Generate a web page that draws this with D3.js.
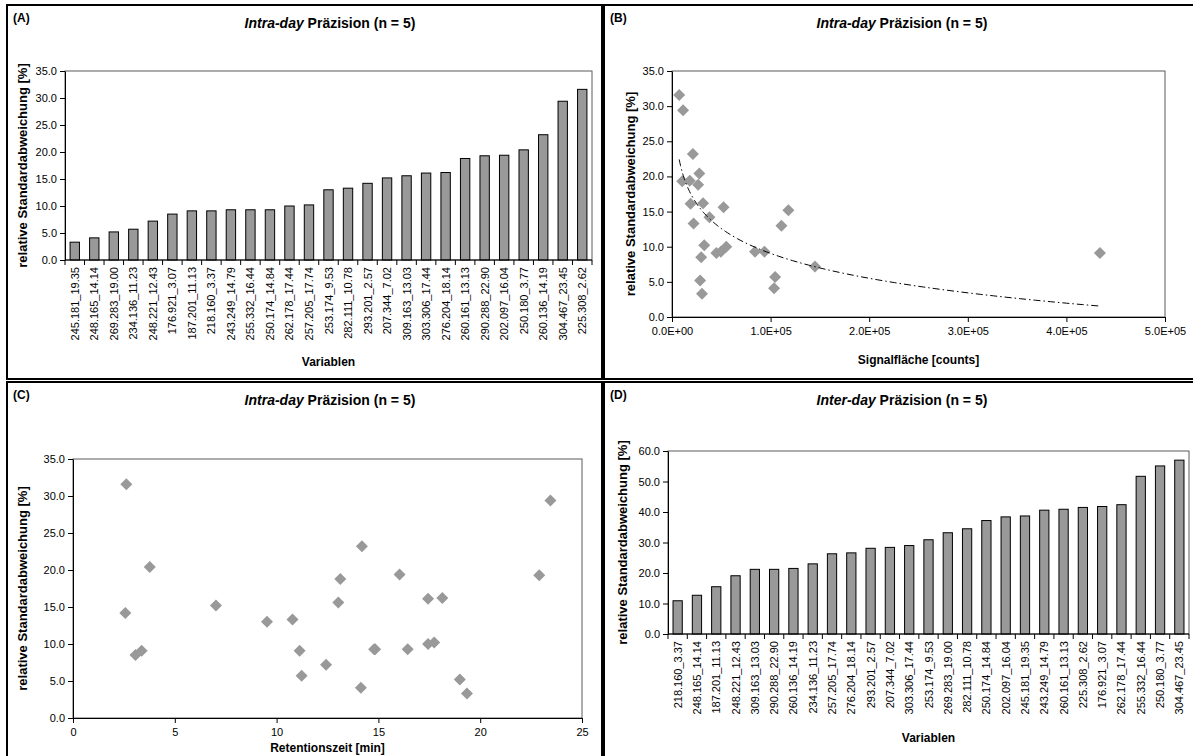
<!DOCTYPE html>
<html><head><meta charset="utf-8">
<script src="https://cdn.jsdelivr.net/npm/d3@7"></script>
<style>
body{margin:0;background:#fff;}
svg{display:block;font-family:"Liberation Sans",Arial,sans-serif;}
</style></head><body>
<svg id="chart" width="1193" height="756"></svg>
<script>
// Intra-day precision: compounds sorted by RSD
const intraLabels = ["245.181_19.35","248.165_14.14","269.283_19.00","234.136_11.23","248.221_12.43","176.921_3.07","187.201_11.13","218.160_3.37","243.249_14.79","255.332_16.44","250.174_14.84","262.178_17.44","257.205_17.74","253.174_9.53","282.111_10.78","293.201_2.57","207.344_7.02","309.163_13.03","303.306_17.44","276.204_18.14","260.161_13.13","290.288_22.90","202.097_16.04","250.180_3.77","260.136_14.19","304.467_23.45","225.308_2.62"];
const intraRsd = [3.3,4.1,5.2,5.7,7.2,8.5,9.1,9.1,9.3,9.3,9.3,10.0,10.2,13.0,13.3,14.2,15.2,15.6,16.1,16.2,18.8,19.3,19.4,20.4,23.2,29.4,31.6];
// retention time [min] of each compound (same order)
const retentionTime = [19.35,14.14,19.00,11.23,12.43,3.07,11.13,3.37,14.79,16.44,14.84,17.44,17.74,9.53,10.78,2.57,7.02,13.03,17.44,18.14,13.13,22.90,16.04,3.77,14.19,23.45,2.62];
// signal area [counts] of each compound (same order)
const signalArea = [30400,103500,28500,104600,145000,29600,45000,434000,49600,84200,93800,55000,32700,111000,21900,38000,118000,52300,18800,31500,26500,10400,18000,27700,21200,11200,7300];

// Inter-day precision
const interLabels = ["218.160_3.37","248.165_14.14","187.201_11.13","248.221_12.43","309.163_13.03","290.288_22.90","260.136_14.19","234.136_11.23","257.205_17.74","276.204_18.14","293.201_2.57","207.344_7.02","303.306_17.44","253.174_9.53","269.283_19.00","282.111_10.78","250.174_14.84","202.097_16.04","245.181_19.35","243.249_14.79","260.161_13.13","225.308_2.62","176.921_3.07","262.178_17.44","255.332_16.44","250.180_3.77","304.467_23.45"];
const interRsd = [10.9,12.7,15.5,19.1,21.2,21.2,21.5,23.0,26.3,26.6,28.1,28.4,29.0,30.9,33.2,34.5,37.2,38.4,38.7,40.6,40.9,41.5,41.8,42.4,51.7,55.1,57.0];

const yTicksIntra = [0,5,10,15,20,25,30,35];
const yTicksInter = [0,10,20,30,40,50,60];
const xTicksArea = [0,100000,200000,300000,400000,500000];
const xTicksRt = [0,5,10,15,20,25];

const svg = d3.select("#chart");
const BAR = "#999999", MARK = "#999999", FRAME = "#5a5a5a";
const FONT = "Liberation Sans, Arial, sans-serif";
const fmt1 = d3.format(".1f");
const fmtExp = d => {
  const [m, e] = d.toExponential(1).split("e");
  const n = Math.abs(+e);
  return m + "E" + (+e < 0 ? "-" : "+") + (n < 10 ? "0" + n : n);
};

function panel(box, tag) {
  const [x0, y0, x1, y1] = box;
  svg.append("rect").attr("x", x0).attr("y", y0).attr("width", x1 - x0).attr("height", y1 - y0)
    .attr("fill", "#fff").attr("stroke", "#000").attr("stroke-width", 2);
  svg.append("text").attr("x", x0 + 6).attr("y", y0 + 17).attr("font-size", 12).attr("font-weight", "bold").text(tag);
}
function title(cx, y, italic, rest) {
  const t = svg.append("text").attr("x", cx).attr("y", y).attr("text-anchor", "middle")
    .attr("font-size", 14).attr("font-weight", "bold");
  t.append("tspan").attr("font-style", "italic").text(italic);
  t.append("tspan").text(" " + rest);
}
function yAxis(g, y, ticks, p) {
  const ax = g.append("g").attr("transform", `translate(${p.x0},0)`)
    .call(d3.axisLeft(y).tickValues(ticks).tickFormat(fmt1).tickSize(5).tickSizeOuter(0).tickPadding(3));
  ax.select(".domain").attr("stroke", "#000");
  ax.selectAll("text").attr("font-size", 11).attr("fill", "#000").attr("font-family", FONT);
  g.append("text").attr("transform", `translate(${p.ty},${(p.y0 + p.y1) / 2}) rotate(-90)`)
    .attr("dy", "0.35em").attr("text-anchor", "middle").attr("font-size", 13).attr("font-weight", "bold")
    .text("relative Standardabweichung [%]");
}
function frame(g, p) {
  g.append("rect").attr("x", p.x0).attr("y", p.y0).attr("width", p.x1 - p.x0).attr("height", p.y1 - p.y0)
    .attr("fill", "#fff").attr("stroke", FRAME).attr("stroke-width", 1);
}

function barPanel(p, labels, values, yMax, ticks, xTitle, xTitleY) {
  const g = svg.append("g");
  frame(g, p);
  const x = d3.scaleBand().domain(labels).range([p.x0, p.x1]);
  const y = d3.scaleLinear().domain([0, yMax]).range([p.y1, p.y0]);
  const bw = x.bandwidth();
  g.selectAll("rect.bar").data(labels).join("rect").attr("class", "bar")
    .attr("x", d => x(d) + bw * 0.26).attr("width", bw * 0.48)
    .attr("y", (d, i) => y(values[i])).attr("height", (d, i) => y(0) - y(values[i]))
    .attr("fill", BAR).attr("stroke", "#000").attr("stroke-width", 1);
  // category axis with ticks between categories
  g.append("line").attr("x1", p.x0).attr("x2", p.x1).attr("y1", y(0)).attr("y2", y(0)).attr("stroke", "#000");
  g.selectAll("line.ct").data(labels.concat([null])).join("line").attr("class", "ct")
    .attr("x1", (d, i) => p.x0 + i * x.step()).attr("x2", (d, i) => p.x0 + i * x.step())
    .attr("y1", y(0)).attr("y2", y(0) + 5).attr("stroke", "#000");
  g.selectAll("text.cat").data(labels).join("text").attr("class", "cat")
    .attr("transform", d => `translate(${x(d) + bw / 2 + 4},${y(0) + 7}) rotate(-90)`)
    .attr("text-anchor", "end").attr("font-size", 11).text(d => d);
  yAxis(g, y, ticks, p);
  g.append("text").attr("x", (p.x0 + p.x1) / 2).attr("y", xTitleY).attr("text-anchor", "middle")
    .attr("font-size", 12).attr("font-weight", "bold").text(xTitle);
}

function scatterPanel(p, xs, ys, xMax, xTicks, xFmt, xTitle, xTitleY, trend) {
  const g = svg.append("g");
  frame(g, p);
  const x = d3.scaleLinear().domain([0, xMax]).range([p.x0, p.x1]);
  const y = d3.scaleLinear().domain([0, 35]).range([p.y1, p.y0]);
  const xa = g.append("g").attr("transform", `translate(0,${p.y1})`)
    .call(d3.axisBottom(x).tickValues(xTicks).tickFormat(xFmt).tickSize(5).tickSizeOuter(0).tickPadding(5));
  xa.select(".domain").attr("stroke", "#000");
  xa.selectAll("text").attr("font-size", 11).attr("fill", "#000").attr("font-family", FONT);
  yAxis(g, y, yTicksIntra, p);
  const sym = d3.symbol(d3.symbolSquare, 72);
  g.selectAll("path.pt").data(xs).join("path").attr("class", "pt")
    .attr("d", sym).attr("fill", MARK)
    .attr("transform", (d, i) => `translate(${x(d)},${y(ys[i])}) rotate(45)`);
  if (trend) {
    // logarithmic least-squares trend line y = a + b ln(x)
    const lx = xs.map(Math.log);
    const mx = d3.mean(lx), my = d3.mean(ys);
    const b = d3.sum(lx, (v, i) => (v - mx) * (ys[i] - my)) / d3.sum(lx, v => (v - mx) ** 2);
    const a = my - b * mx;
    const [lo, hi] = d3.extent(xs);
    const pts = d3.range(0, 101).map(k => lo * Math.pow(hi / lo, k / 100));
    g.append("path").datum(pts)
      .attr("d", d3.line().x(v => x(v)).y(v => y(a + b * Math.log(v))))
      .attr("fill", "none").attr("stroke", "#000").attr("stroke-width", 1)
      .attr("stroke-dasharray", "7,3,1.5,3");
  }
  g.append("text").attr("x", (p.x0 + p.x1) / 2).attr("y", xTitleY).attr("text-anchor", "middle")
    .attr("font-size", 12).attr("font-weight", "bold").text(xTitle);
}

// (A) bars
panel([7, 5, 602, 379], "(A)");
title(330, 28, "Intra-day", "Präzision (n = 5)");
barPanel({x0: 65, x1: 592, y0: 71, y1: 260, ty: 22}, intraLabels, intraRsd, 35, yTicksIntra, "Variablen", 366);

// (B) RSD vs signal area
panel([604, 5, 1205, 379], "(B)");
title(902, 28, "Intra-day", "Präzision (n = 5)");
scatterPanel({x0: 672, x1: 1165, y0: 71, y1: 317, ty: 630}, signalArea, intraRsd, 500000, xTicksArea, fmtExp,
  "Signalfläche [counts]", 364, true);

// (C) RSD vs retention time
panel([7, 382, 602, 765], "(C)");
title(330, 405, "Intra-day", "Präzision (n = 5)");
scatterPanel({x0: 73, x1: 582, y0: 459, y1: 718, ty: 22}, retentionTime, intraRsd, 25, xTicksRt, d3.format("d"),
  "Retentionszeit [min]", 752, false);

// (D) inter-day bars
panel([604, 382, 1205, 765], "(D)");
title(902, 405, "Inter-day", "Präzision (n = 5)");
barPanel({x0: 668, x1: 1189, y0: 451, y1: 634, ty: 622}, interLabels, interRsd, 60, yTicksInter, "Variablen", 742);
</script>
</body></html>
